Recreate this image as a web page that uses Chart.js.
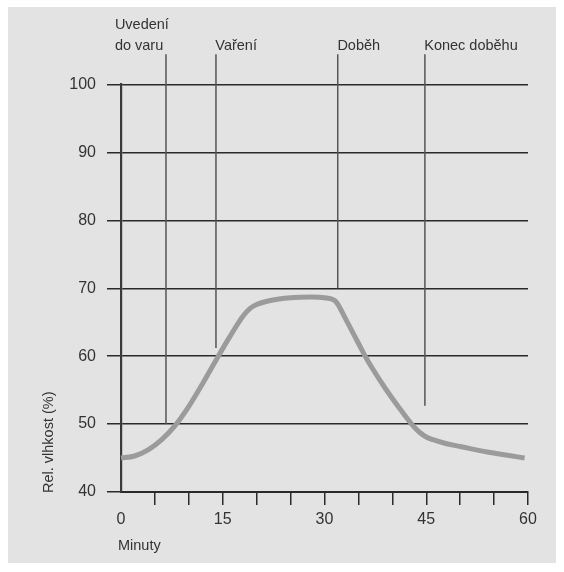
<!DOCTYPE html>
<html>
<head>
<meta charset="utf-8">
<script src="https://cdn.jsdelivr.net/npm/chart.js@4"></script>
<style>
  body { margin: 0; background: #fff; }
  #panel { position: absolute; left: 8px; top: 7px; width: 548px; height: 556px; background: #e3e3e3; }
</style>
</head>
<body>
<div id="panel"><canvas id="chart" width="548" height="556"></canvas></div>
<script>
// Humidity curve
const minutes = [0, 2, 4, 6, 8, 10, 12, 14, 16, 18, 19, 20, 22, 25, 28, 30, 31.5, 32, 33, 34, 35, 36, 37, 39, 41, 43, 44, 45, 46, 48, 50, 54, 57, 59.5];
const humidity = [45.0, 45.3, 46.2, 47.7, 49.8, 52.6, 55.9, 59.4, 62.8, 65.9, 67.0, 67.6, 68.2, 68.6, 68.7, 68.6, 68.2, 67.6, 65.7, 63.8, 61.9, 60.0, 58.3, 55.2, 52.4, 49.8, 48.8, 48.1, 47.7, 47.1, 46.7, 45.9, 45.4, 45.0];

// Phase markers
const phaseNames = [['Uvedení', 'do varu'], ['Vaření'], ['Doběh'], ['Konec doběhu']];
const phaseX = [6.63, 14.0, 31.95, 44.8];
const phaseBottom = [50, 61.2, 70, 52.7];
const phaseTop = 104.45;
const phaseLabelX = [-0.9, 13.9, 31.9, 44.7];

const xLabels = [0, 15, 30, 45, 60];
const yTicks = [40, 50, 60, 70, 80, 90, 100];

const FONT = '"Liberation Sans", Arial, sans-serif';
const TEXT = '#333';

const phaseSets = phaseX.map((x, i) => ({
  data: [{ x: x, y: phaseBottom[i] }, { x: x, y: phaseTop }],
  borderColor: '#555',
  borderWidth: 1.5,
  pointRadius: 0,
  tension: 0,
  clip: false
}));

const extraText = {
  id: 'extraText',
  afterDraw(chart) {
    const { ctx, chartArea, scales } = chart;
    ctx.save();
    ctx.fillStyle = TEXT;
    ctx.font = '14.5px ' + FONT;
    ctx.textAlign = 'left';
    ctx.textBaseline = 'alphabetic';
    const baseY = scales.y.getPixelForValue(phaseTop) - 4.5;
    phaseNames.forEach((lines, i) => {
      const x = scales.x.getPixelForValue(phaseLabelX[i]);
      lines.forEach((t, j) => {
        ctx.fillText(t, x, baseY - (lines.length - 1 - j) * 21);
      });
    });
    // x title
    ctx.fillText('Minuty', chartArea.left - 3, chartArea.bottom + 58);
    // y title
    ctx.translate(chartArea.left - 67.7, scales.y.getPixelForValue(40) + 1);
    ctx.rotate(-Math.PI / 2);
    ctx.fillText('Rel. vlhkost (%)', 0, 0);
    ctx.restore();
  }
};

new Chart(document.getElementById('chart'), {
  type: 'line',
  data: {
    datasets: [{
      data: minutes.map((m, i) => ({ x: m, y: humidity[i] })),
      borderColor: '#9b9b9b',
      borderWidth: 5,
      pointRadius: 0,
      cubicInterpolationMode: 'monotone',
      clip: false
    }, ...phaseSets]
  },
  options: {
    responsive: false,
    animation: false,
    layout: { padding: { left: 53, top: 77.5, right: 28, bottom: 31 } },
    plugins: { legend: { display: false }, tooltip: { enabled: false } },
    scales: {
      x: {
        type: 'linear',
        min: 0,
        max: 60,
        afterFit: s => { s.height = 40; },
        afterBuildTicks: s => { s.ticks = Array.from({ length: 13 }, (_, i) => ({ value: i * 5 })); },
        ticks: {
          autoSkip: false,
          maxRotation: 0,
          padding: 5,
          color: TEXT,
          font: { family: FONT, size: 16 },
          callback: v => xLabels.includes(v) ? String(v) : ''
        },
        grid: {
          drawOnChartArea: false,
          tickLength: 13,
          lineWidth: 1.5,
          color: c => c.tick && c.tick.value === 0 ? 'rgba(0,0,0,0)' : '#2a2a2a'
        },
        border: { display: true, color: '#2a2a2a', width: 2 }
      },
      y: {
        min: 40,
        max: 100,
        afterFit: s => { s.width = 60; },
        afterBuildTicks: s => { s.ticks = yTicks.map(v => ({ value: v })); },
        ticks: {
          padding: 11,
          color: TEXT,
          font: { family: FONT, size: 16 }
        },
        grid: { tickLength: 14, lineWidth: 1.5, color: '#2a2a2a' },
        border: { display: true, color: '#3a3a3a', width: 2.2 }
      }
    }
  },
  plugins: [extraText]
});
</script>
</body>
</html>
